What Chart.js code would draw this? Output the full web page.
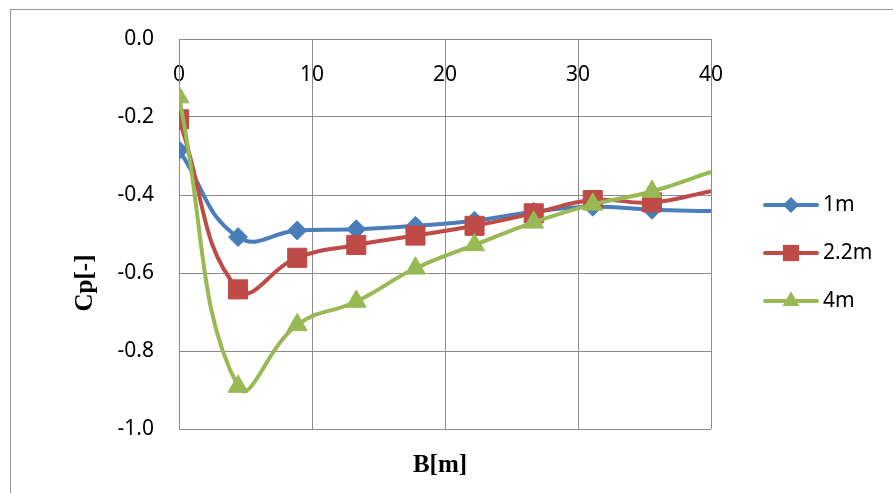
<!DOCTYPE html>
<html>
<head>
<meta charset="utf-8">
<title>Cp vs B</title>
<script src="https://cdn.jsdelivr.net/npm/chart.js@4.4.1/dist/chart.umd.min.js"></script>
<style>
  html, body { margin: 0; padding: 0; background: #fff; }
  #wrap { position: relative; width: 893px; height: 493px; overflow: hidden; }
  #frame { position: absolute; left: 10px; top: 9px; width: 1000px; height: 1000px;
           border-left: 1px solid #9a9a9a; border-top: 1px solid #9a9a9a; }
  canvas { position: absolute; left: 0; top: 0; }
</style>
</head>
<body>
<div id="wrap">
  <div id="frame"></div>
  <canvas id="cpChart" width="893" height="493"></canvas>
</div>
<script>
// ---------------- DATA ----------------
const bValues = [0, 4.44, 8.89, 13.33, 17.78, 22.22, 26.67, 31.11, 35.56, 40];
const cp1m  = [-0.285, -0.508, -0.491, -0.488, -0.479, -0.466, -0.443, -0.430, -0.438, -0.441];
const cp22m = [-0.206, -0.642, -0.561, -0.528, -0.504, -0.479, -0.447, -0.413, -0.419, -0.390];
const cp4m  = [-0.149, -0.891, -0.733, -0.673, -0.588, -0.528, -0.470, -0.424, -0.391, -0.341];
const seriesNames = ['1m', '2.2m', '4m'];
const xTicks = [0, 10, 20, 30, 40];
const yTicks = [0, -0.2, -0.4, -0.6, -0.8, -1.0];
const xTitle = 'B[m]';
const yTitle = 'Cp[-]';

const colors = ['#4A7EBB', '#BE4B48', '#98B954'];
const styles = ['rectRot', 'rect', 'triangle'];
const radii = [9.5, 13.5, 11.5];
const gridColor = '#8c8c8c';
const tickFont = { family: 'Noto Sans', size: 21 };

const toPoints = vals => vals.map((v, i) => ({ x: bValues[i], y: v }));

// last sample sits on the plot edge, Excel draws no marker there
const hideEdge = r => ctx => (ctx.raw && ctx.raw.x >= 40 ? 0 : r);

const datasets = [cp1m, cp22m, cp4m].map((vals, i) => ({
  label: seriesNames[i],
  data: toPoints(vals),
  order: 3 - i, // later series on top, like Excel
  borderColor: colors[i],
  backgroundColor: colors[i],
  borderWidth: 4,
  tension: 0.45,
  pointStyle: styles[i],
  pointRadius: hideEdge(radii[i]),
  pointHoverRadius: hideEdge(radii[i]),
  pointBorderColor: colors[i],
  pointBackgroundColor: colors[i],
  pointBorderWidth: 1
}));

// ---------------- CUSTOM LEGEND + AXIS TITLES ----------------
function drawMarker(ctx, style, x, y, r) {
  ctx.beginPath();
  if (style === 'rectRot') {
    ctx.moveTo(x - r, y); ctx.lineTo(x, y - r); ctx.lineTo(x + r, y); ctx.lineTo(x, y + r);
  } else if (style === 'rect') {
    const s = r * Math.SQRT1_2;
    ctx.rect(x - s, y - s, 2 * s, 2 * s);
  } else {
    const a = Math.PI * 2 / 3;
    ctx.moveTo(x, y - r);
    ctx.lineTo(x + Math.sin(a) * r, y - Math.cos(a) * r);
    ctx.lineTo(x + Math.sin(2 * a) * r, y - Math.cos(2 * a) * r);
  }
  ctx.closePath();
  ctx.fill();
}

const extrasPlugin = {
  id: 'extras',
  afterDraw(chart) {
    const ctx = chart.ctx;
    ctx.save();
    // legend
    const rows = [205, 253, 301];
    seriesNames.forEach((name, i) => {
      const y = rows[i];
      ctx.strokeStyle = colors[i];
      ctx.fillStyle = colors[i];
      ctx.lineWidth = 4;
      ctx.lineCap = 'round';
      ctx.beginPath();
      ctx.moveTo(765, y); ctx.lineTo(817, y);
      ctx.stroke();
      drawMarker(ctx, styles[i], 791, y, radii[i] * 0.85);
      ctx.fillStyle = '#000';
      ctx.font = '21px "Noto Sans"';
      ctx.textAlign = 'left';
      ctx.textBaseline = 'middle';
      ctx.fillText(name, 823, y);
    });
    // axis titles
    ctx.fillStyle = '#000';
    ctx.font = 'bold 25px "Liberation Serif"';
    ctx.textAlign = 'center';
    ctx.textBaseline = 'middle';
    ctx.fillText(xTitle, 440, 466);
    ctx.translate(86, 283);
    ctx.rotate(-Math.PI / 2);
    ctx.fillText(yTitle, 0, 0);
    ctx.restore();
  }
};

// ---------------- CHART ----------------
new Chart(document.getElementById('cpChart').getContext('2d'), {
  type: 'scatter',
  data: { datasets },
  options: {
    responsive: false,
    animation: false,
    devicePixelRatio: 1,
    showLine: true,
    layout: { padding: { left: 0, right: 182, top: 39, bottom: 64 } },
    plugins: { legend: { display: false }, tooltip: { enabled: false } },
    scales: {
      x: {
        type: 'linear',
        position: { y: 0 },
        min: 0, max: 40,
        afterBuildTicks: s => { s.ticks = xTicks.map(v => ({ value: v })); },
        ticks: { font: tickFont, color: '#000', padding: 23, maxRotation: 0 },
        grid: { color: gridColor, lineWidth: 1, drawTicks: false },
        border: { color: gridColor, width: 1 }
      },
      y: {
        type: 'linear',
        position: 'left',
        min: -1, max: 0,
        afterBuildTicks: s => { s.ticks = yTicks.map(v => ({ value: v })); },
        afterFit: s => { s.width = 179; },
        ticks: { font: tickFont, color: '#000', padding: 25, callback: v => v.toFixed(1) },
        grid: { color: gridColor, lineWidth: 1, drawTicks: false },
        border: { color: gridColor, width: 1 }
      }
    }
  },
  plugins: [extrasPlugin]
});
</script>
</body>
</html>
